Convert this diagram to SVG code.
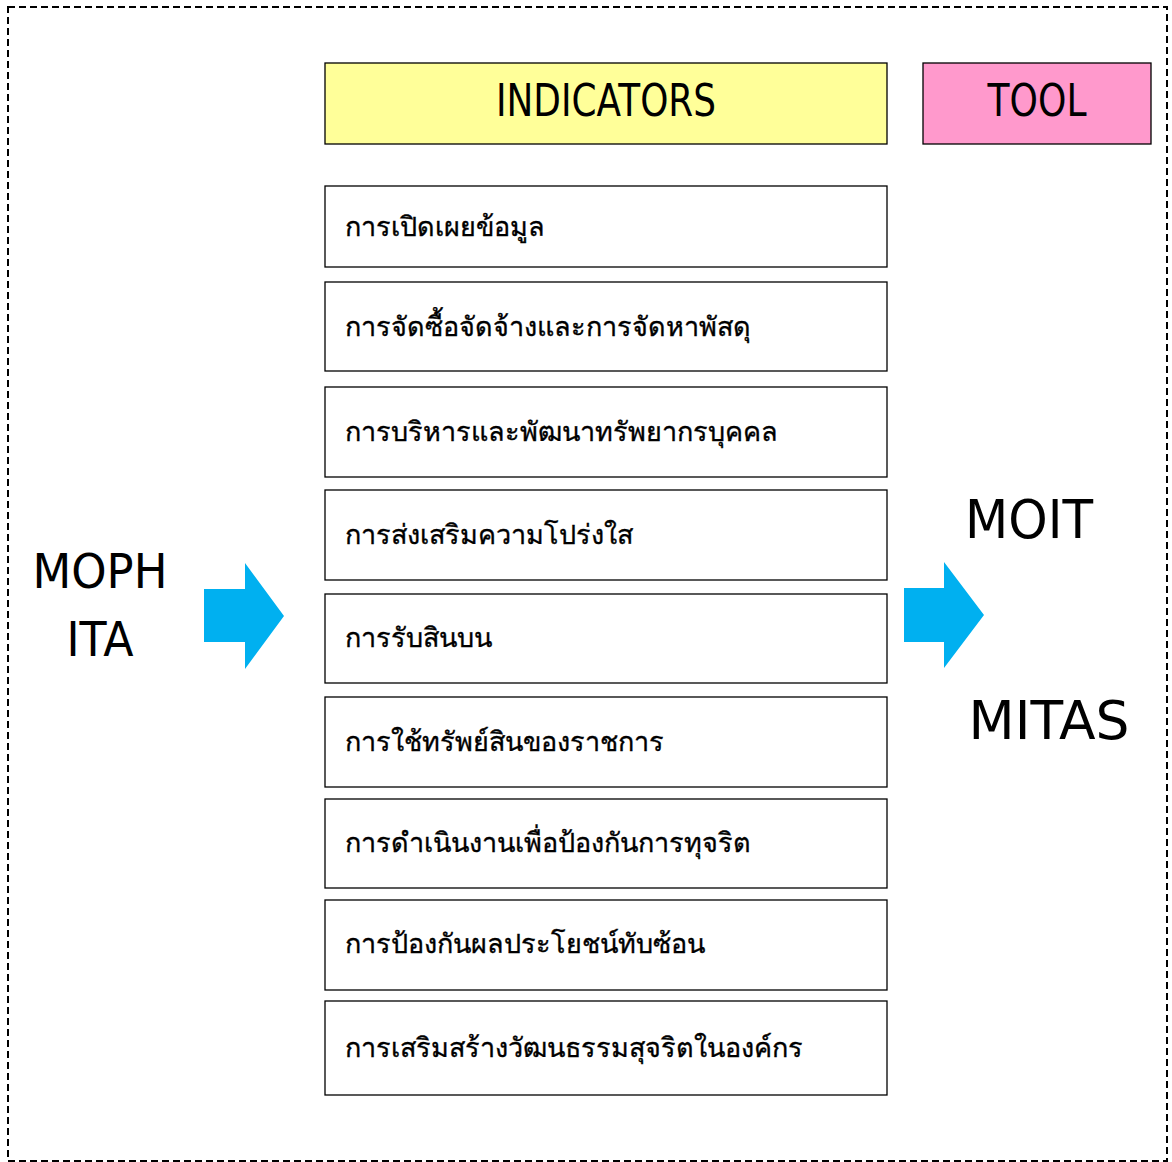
<svg xmlns="http://www.w3.org/2000/svg" width="1172" height="1162" viewBox="0 0 1172 1162">
<style>
.box{fill:#fff;stroke:#000;stroke-width:1.3}
.th{font-family:"Noto Sans","DejaVu Sans",sans-serif;font-size:27px;fill:#000;stroke:#000;stroke-width:0.35}
.en{font-family:"DejaVu Sans","Liberation Sans",sans-serif;fill:#000}
.arrow{fill:#00B0F0}
</style>
<rect x="8" y="7" width="1159" height="1154" fill="none" stroke="#000" stroke-width="2" stroke-dasharray="7,4"/>
<g id="indicators">
<rect x="325" y="63" width="562" height="81" fill="#FFFF99" stroke="#000" stroke-width="1.3"/>
<text class="en" x="606" y="116" font-size="44" text-anchor="middle" textLength="220" lengthAdjust="spacingAndGlyphs">INDICATORS</text>
</g>
<g id="tool">
<rect x="923" y="63" width="228" height="81" fill="#FF99CC" stroke="#000" stroke-width="1.3"/>
<text class="en" x="1037" y="116" font-size="44" text-anchor="middle" textLength="99" lengthAdjust="spacingAndGlyphs">TOOL</text>
</g>
<g id="moph">
<text class="en" x="100" y="588" font-size="48" text-anchor="middle" textLength="135" lengthAdjust="spacingAndGlyphs">MOPH</text>
<text class="en" x="100" y="656" font-size="48" text-anchor="middle" textLength="67" lengthAdjust="spacingAndGlyphs">ITA</text>
</g>
<g id="moit">
<text class="en" x="1029" y="538" font-size="54" text-anchor="middle" textLength="128" lengthAdjust="spacingAndGlyphs">MOIT</text>
</g>
<g id="mitas">
<text class="en" x="1049" y="739" font-size="54" text-anchor="middle" textLength="161" lengthAdjust="spacingAndGlyphs">MITAS</text>
</g>
<g id="i1"><rect class="box" x="325" y="186" width="562" height="81"/><text class="th" x="345" y="236">การเปิดเผยข้อมูล</text></g>
<g id="i2"><rect class="box" x="325" y="282" width="562" height="89"/><text class="th" x="345" y="336">การจัดซื้อจัดจ้างและการจัดหาพัสดุ</text></g>
<g id="i3"><rect class="box" x="325" y="387" width="562" height="90"/><text class="th" x="345" y="441">การบริหารและพัฒนาทรัพยากรบุคคล</text></g>
<g id="i4"><rect class="box" x="325" y="490" width="562" height="90"/><text class="th" x="345" y="544">การส่งเสริมความโปร่งใส</text></g>
<g id="i5"><rect class="box" x="325" y="594" width="562" height="89"/><text class="th" x="345" y="647">การรับสินบน</text></g>
<g id="i6"><rect class="box" x="325" y="697" width="562" height="90"/><text class="th" x="345" y="751">การใช้ทรัพย์สินของราชการ</text></g>
<g id="i7"><rect class="box" x="325" y="799" width="562" height="89"/><text class="th" x="345" y="852">การดำเนินงานเพื่อป้องกันการทุจริต</text></g>
<g id="i8"><rect class="box" x="325" y="900" width="562" height="90"/><text class="th" x="345" y="953">การป้องกันผลประโยชน์ทับซ้อน</text></g>
<g id="i9"><rect class="box" x="325" y="1001" width="562" height="94"/><text class="th" x="345" y="1057">การเสริมสร้างวัฒนธรรมสุจริตในองค์กร</text></g>
<g id="connectors">
<polygon class="arrow" points="204,589 245,589 245,563 284,616 245,669 245,642 204,642"/>
<polygon class="arrow" points="904,588 944,588 944,562 984,615 944,668 944,642 904,642"/>
</g>
</svg>
